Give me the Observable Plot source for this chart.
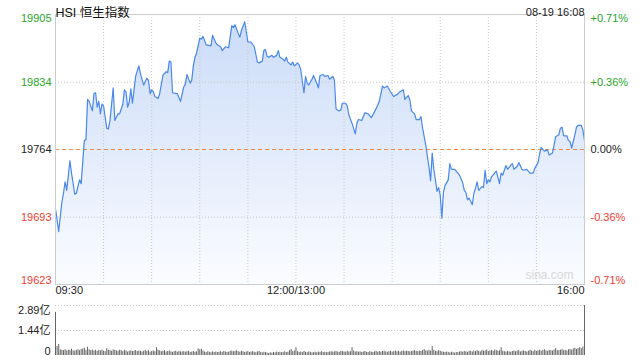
<!DOCTYPE html>
<html><head><meta charset="utf-8">
<script src="https://cdn.jsdelivr.net/npm/d3@7"></script>
<script src="https://cdn.jsdelivr.net/npm/@observablehq/plot@0.6"></script>
<style>
body{margin:0;background:#fff;}
#wrap{width:640px;height:360px;overflow:hidden;}
#wrap svg{display:block;}
</style></head><body><div id="wrap"></div>
<script>
const title = "HSI 恒生指数";
const stamp = "08-19 16:08";
const watermark = "sina.com";
const prevClose = 19763.7;
const priceLow = 19622.7;
const priceHigh = 19904.7;
const priceTicks = [19623, 19693, 19764, 19834, 19905];
const pctTicks = ["-0.71%", "-0.36%", "0.00%", "+0.36%", "+0.71%"];
const gridMinutes = [30, 60, 90, 120, 150, 180, 210, 240, 270, 300];
const timeTicks = [0, 150, 330];
const timeLabels = ["09:30", "12:00/13:00", "16:00"];
const volTicks = [0, 144.5, 289];
const volLabels = ["0", "1.44亿", "2.89亿"];

const minutes = [0,2,4,5,6,7,9,10,12,13,15,16,18,19,20,21,23,24,25,26,27,28,29,30,32,33,34,36,37,39,40,42,43,44,45,46,47,48,49,50,52,53,55,57,58,59,60,61,62,64,65,67,68,69,70,71,72,73,76,78,80,81,82,84,85,86,87,88,90,91,92,94,97,98,100,101,103,104,106,108,110,111,112,114,115,116,118,119,120,122,124,126,127,129,130,131,132,133,135,136,138,139,140,142,143,144,145,147,148,149,151,152,153,155,156,157,158,160,161,163,164,165,167,168,170,171,173,174,175,177,178,179,181,182,183,185,187,188,189,191,193,195,197,199,201,202,204,205,207,209,211,213,215,217,218,220,221,222,224,225,227,228,229,231,233,234,235,236,237,238,239,240,241,242,243,245,246,247,249,251,252,254,255,256,257,258,260,261,262,263,264,266,267,268,269,270,271,272,274,275,277,278,279,281,282,284,285,286,288,289,291,292,294,296,298,299,301,302,303,305,307,308,310,311,312,314,315,316,317,319,320,321,322,324,325,326,328,329,330];
const prices = [19702,19678,19709,19718,19730,19721,19752,19739,19717,19718,19732,19728,19773,19774,19816,19814,19804,19822,19823,19808,19814,19801,19811,19809,19786,19785,19794,19828,19794,19801,19801,19811,19826,19824,19808,19813,19827,19812,19826,19840,19851,19843,19831,19838,19836,19822,19826,19824,19819,19817,19822,19841,19843,19845,19844,19856,19855,19823,19822,19814,19829,19832,19842,19833,19836,19851,19860,19864,19880,19879,19882,19873,19872,19883,19875,19873,19871,19867,19871,19870,19893,19891,19894,19885,19881,19888,19897,19887,19876,19876,19871,19855,19854,19856,19867,19868,19861,19860,19862,19860,19862,19867,19860,19858,19856,19860,19855,19852,19855,19851,19854,19852,19847,19823,19840,19833,19831,19837,19841,19833,19828,19841,19842,19840,19841,19837,19840,19836,19806,19804,19805,19812,19812,19809,19800,19791,19780,19791,19795,19794,19802,19801,19797,19803,19810,19814,19830,19828,19830,19824,19819,19821,19824,19826,19816,19820,19816,19804,19801,19795,19795,19798,19786,19768,19745,19731,19760,19743,19732,19720,19724,19716,19692,19719,19726,19732,19749,19743,19743,19739,19737,19729,19721,19719,19711,19713,19706,19718,19723,19730,19721,19725,19724,19742,19728,19732,19730,19735,19739,19741,19728,19739,19737,19747,19743,19747,19749,19743,19746,19750,19743,19742,19743,19739,19739,19744,19750,19759,19766,19762,19763,19758,19760,19768,19777,19779,19786,19787,19778,19778,19773,19772,19765,19779,19787,19789,19789,19784,19773];

// volume per minute, in millions (百万)
const volumes = [249,
52,64,33,30,28,34,26,31,29,36,
27,25,30,33,28,35,37,42,30,48,
33,28,31,26,30,24,29,27,31,25,
22,40,30,28,25,33,29,27,24,31,
28,22,30,26,20,24,27,23,25,29,
22,26,24,20,25,30,24,28,19,23,26,22,45,
30,27,22,24,28,20,23,26,21,18,22,25,19,24,21,20,23,
19,22,25,18,20,23,19,21,38,33,36,26,20,17,22,19,16,21,18,20,
17,19,22,18,24,20,17,19,23,26,21,24,28,22,19,25,21,18,20,23,
17,20,22,19,16,21,23,18,15,19,17,14,12,16,13,18,15,20,17,19,
16,18,22,17,19,28,35,22,26,45,
22,18,20,17,24,19,16,21,18,15,17,19,16,20,18,22,17,19,16,18,
20,22,19,21,24,20,18,23,22,21,19,24,20,22,45,26,20,22,19,21,
18,20,23,19,17,22,20,18,21,24,19,22,20,23,25,21,19,22,24,20,
22,26,21,24,20,23,27,22,25,24,21,23,26,28,24,22,25,23,29,34,
27,25,30,26,52,30,24,22,28,25,
21,19,17,20,18,15,19,16,14,18,17,20,22,19,24,21,18,25,23,20,
26,22,28,24,21,30,25,27,32,23,26,29,24,31,28,25,27,45,25,22,
20,24,21,19,23,26,22,25,28,21,24,27,23,20,25,29,26,22,30,24,
27,31,25,29,33,27,24,30,28,26,32,40,29,27,31,34,28,30,26,33,
35,31,38,42,36,40,45,39,48,289];

const FONT = '"Liberation Sans", Arial, "Noto Sans CJK SC", sans-serif';
const GREEN = "#2aa52a", RED = "#f03c32", DARK = "#222";

const data = minutes.map((m, i) => ({m, p: prices[i]}));
const volData = volumes.map((v, i) => ({m: i, v}));

const tickColor = (v) => v > 19764 ? GREEN : v < 19764 ? RED : DARK;
const pctColor = (s) => s.startsWith("+") ? GREEN : s.startsWith("-") ? RED : DARK;
const pctPos = pctTicks.map((s, i) => ({y: priceTicks[i], s}));

function sideLabels(filterFn, anchor) {
  return [
    Plot.text(priceTicks.filter(filterFn), {y: d => d, frameAnchor: "left", dx: -4, textAnchor: "end",
      text: d => String(d), fill: d => tickColor(d), lineAnchor: anchor, fontSize: 11}),
    Plot.text(pctPos.filter(d => filterFn(d.y)), {y: "y", frameAnchor: "right", dx: 6, textAnchor: "start",
      text: "s", fill: d => pctColor(d.s), lineAnchor: anchor, fontSize: 11})
  ];
}

const main = Plot.plot({
  width: 640, height: 300,
  marginLeft: 55, marginRight: 56, marginTop: 14, marginBottom: 16,
  x: {domain: [0, 330], axis: null},
  y: {domain: [priceLow, priceHigh], axis: null},
  style: {fontFamily: FONT, fontSize: "11px", background: "transparent", overflow: "visible"},
  marks: [
    Plot.areaY(data, {x: "m", y1: priceLow, y2: "p", fill: "url(#hsiGrad)"}),
    Plot.ruleX(gridMinutes, {stroke: "#c8c8c8", strokeDasharray: "1,2"}),
    Plot.ruleY([priceTicks[1], priceTicks[3]], {stroke: "#c8c8c8", strokeDasharray: "1,2"}),
    Plot.ruleY([prevClose], {stroke: "#f08a50", strokeDasharray: "4,3", strokeOpacity: 1}),
    Plot.lineY(data, {x: "m", y: "p", stroke: "#4a88ee", strokeWidth: 1.2}),
    Plot.frame({stroke: "#cccccc"}),
    ...sideLabels(v => v === 19905, "top"),
    ...sideLabels(v => v > 19623 && v < 19905, "middle"),
    ...sideLabels(v => v === 19623, "bottom"),
    Plot.text([title], {frameAnchor: "top-left", dy: -6, textAnchor: "start", fontSize: 12.5, fill: "#111"}),
    Plot.text([stamp], {frameAnchor: "top-right", dy: -6, textAnchor: "end", fontSize: 11, fill: "#222"}),
    Plot.text([watermark], {frameAnchor: "bottom-right", dx: -11, dy: -6, textAnchor: "end", fontSize: 12, fill: "#d8d8d8"}),
    Plot.text([0], {x: d => timeTicks[0], frameAnchor: "bottom", dy: 9, textAnchor: "start", text: () => timeLabels[0], fill: "#222"}),
    Plot.text([1], {x: d => timeTicks[1], frameAnchor: "bottom", dy: 9, textAnchor: "middle", text: () => timeLabels[1], fill: "#222"}),
    Plot.text([2], {x: d => timeTicks[2], frameAnchor: "bottom", dy: 9, textAnchor: "end", text: () => timeLabels[2], fill: "#222"})
  ]
});

const defs = d3.select(main).insert("defs", ":first-child");
const grad = defs.append("linearGradient").attr("id", "hsiGrad")
  .attr("x1", 0).attr("y1", 0).attr("x2", 0).attr("y2", 1);
grad.append("stop").attr("offset", "0%").attr("stop-color", "#cbdcf8");
grad.append("stop").attr("offset", "100%").attr("stop-color", "#fbfcff");

const vol = Plot.plot({
  width: 640, height: 60,
  marginLeft: 55, marginRight: 56, marginTop: 5, marginBottom: 5,
  x: {domain: [0, 330], axis: null},
  y: {domain: [0, 289], axis: null},
  style: {fontFamily: FONT, fontSize: "11px", background: "transparent", overflow: "visible"},
  marks: [
    Plot.ruleY([volTicks[1], volTicks[2]], {stroke: "#c8c8c8", strokeDasharray: "1,2"}),
    Plot.ruleX(volData, {x: "m", y1: 0, y2: "v", stroke: "#666", strokeWidth: 1}),
    Plot.text([volTicks[2]], {y: d => d, frameAnchor: "left", dx: -5, textAnchor: "end", lineAnchor: "top", dy: 1, text: () => volLabels[2], fill: "#222"}),
    Plot.text([volTicks[1]], {y: d => d, frameAnchor: "left", dx: -5, textAnchor: "end", lineAnchor: "middle", text: () => volLabels[1], fill: "#222"}),
    Plot.text([volTicks[0]], {y: d => d, frameAnchor: "left", dx: -5, textAnchor: "end", lineAnchor: "bottom", dy: -1, text: () => volLabels[0], fill: "#222"})
  ]
});

const wrap = document.getElementById("wrap");
wrap.appendChild(main);
wrap.appendChild(vol);
</script></body></html>
